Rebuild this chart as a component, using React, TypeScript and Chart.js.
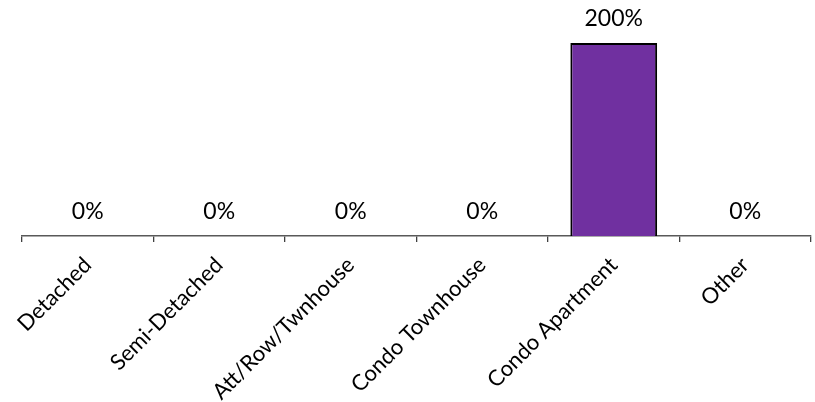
import React, { useEffect, useRef } from "react";
import { Chart, registerables } from "chart.js";

Chart.register(...registerables);

const categories = [
  "Detached",
  "Semi-Detached",
  "Att/Row/Twnhouse",
  "Condo Townhouse",
  "Condo Apartment",
  "Other",
];
const values = [0, 0, 0, 0, 200, 0];
const yMin = 0;
const yMax = 200;

const FONT = "Lato, 'Noto Sans', sans-serif";

const valueLabels = {
  id: "valueLabels",
  afterDatasetsDraw(chart: any) {
    const ctx = chart.ctx;
    const meta = chart.getDatasetMeta(0);
    ctx.save();
    ctx.font = `23px ${FONT}`;
    ctx.fillStyle = "#000";
    ctx.textAlign = "center";
    ctx.textBaseline = "middle";
    meta.data.forEach((el: any, i: number) => {
      ctx.fillText(`${values[i]}%`, el.x, el.y - 24);
    });
    ctx.restore();
  },
};

export default function App() {
  const ref = useRef<HTMLCanvasElement | null>(null);
  useEffect(() => {
    document.body.style.margin = "0";
    const chart = new Chart(ref.current as HTMLCanvasElement, {
      type: "bar",
      data: {
        labels: categories,
        datasets: [
          {
            data: values,
            backgroundColor: "#7030A0",
            borderColor: "#000000",
            borderWidth: 2,
            categoryPercentage: 1,
            barPercentage: 0.66,
          },
        ],
      },
      options: {
        animation: false,
        responsive: false,
        maintainAspectRatio: false,
        layout: { padding: { left: 22, right: 4, top: 43, bottom: 0 } },
        plugins: { legend: { display: false }, tooltip: { enabled: false } },
        scales: {
          x: {
            offset: true,
            grid: {
              display: true,
              drawOnChartArea: false,
              drawTicks: true,
              tickLength: 6,
              color: "#404040",
              lineWidth: 1.3,
              offset: true,
            },
            border: { display: true, color: "#595959", width: 1.5 },
            ticks: {
              autoSkip: false,
              minRotation: 45,
              maxRotation: 45,
              padding: 10,
              color: "#000",
              font: { family: FONT, size: 22 },
            },
            afterFit(scale: any) {
              scale.height = 166;
              scale.paddingLeft = 0;
              scale.paddingRight = 0;
            },
          },
          y: { display: false, min: yMin, max: yMax },
        },
      },
      plugins: [valueLabels],
    });
    return () => chart.destroy();
  }, []);
  return (
    <div style={{ width: 815, height: 402 }}>
      <canvas ref={ref} width={815} height={402} />
    </div>
  );
}
